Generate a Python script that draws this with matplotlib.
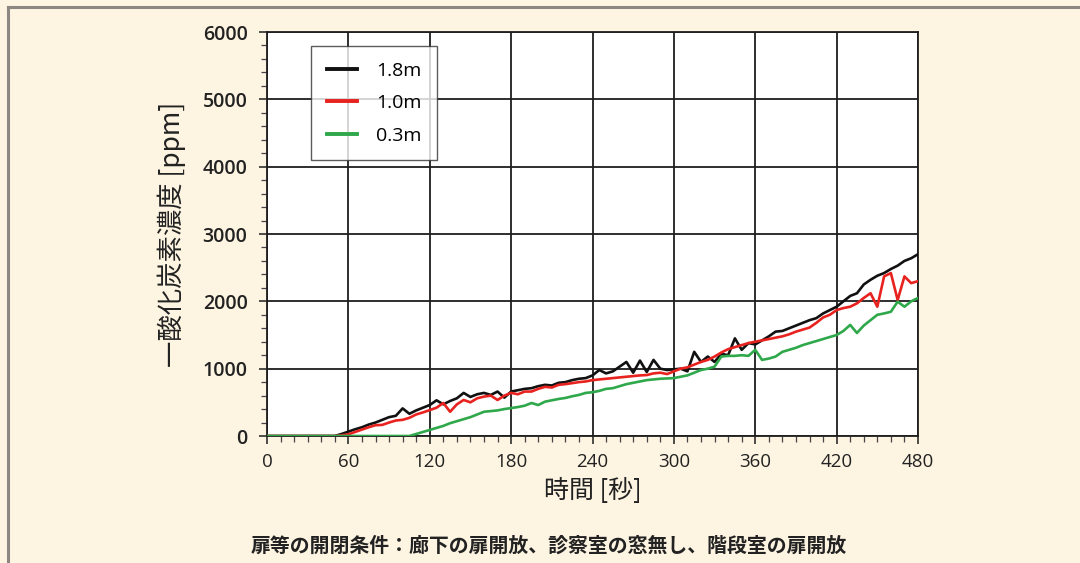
import matplotlib
matplotlib.use("Agg")
import matplotlib.pyplot as plt
from matplotlib.ticker import MultipleLocator
from matplotlib.lines import Line2D

plt.rcParams['font.family'] = ['Noto Sans CJK JP', 'DejaVu Sans']

time_s = list(range(0, 481, 5))

co_18m = [0, 0, 0, 0, 0, 0, 0, 0, 0, 0, 0, 30, 65, 100, 130, 170, 200, 240, 280, 300,
          410, 330, 380, 420, 460, 530, 470, 520, 560, 640, 580, 620, 640, 610, 660, 570,
          660, 680, 700, 710, 740, 760, 750, 790, 800, 830, 850, 860, 900, 980, 930, 960,
          1030, 1100, 940, 1120, 950, 1130, 1000, 980, 990, 1000, 960, 1250, 1100, 1180,
          1100, 1220, 1200, 1450, 1280, 1380, 1360, 1420, 1480, 1550, 1560, 1600, 1640,
          1680, 1720, 1750, 1820, 1870, 1920, 2000, 2080, 2120, 2250, 2320, 2380, 2420,
          2480, 2530, 2600, 2640, 2700]

co_10m = [0, 0, 0, 0, 0, 0, 0, 0, 0, 0, 0, 10, 25, 60, 95, 130, 160, 165, 200, 230,
          240, 270, 320, 350, 385, 420, 490, 360, 470, 535, 500, 560, 585, 600, 535, 600,
          640, 620, 660, 660, 700, 730, 720, 760, 770, 785, 800, 810, 830, 840, 850, 860,
          870, 880, 890, 900, 905, 930, 940, 920, 960, 1000, 1020, 1060, 1100, 1130, 1180,
          1240, 1290, 1320, 1350, 1380, 1400, 1420, 1440, 1460, 1480, 1510, 1550, 1580,
          1610, 1680, 1760, 1800, 1870, 1900, 1920, 1970, 2050, 2120, 1920, 2370, 2420,
          2020, 2370, 2270, 2300]

co_03m = [0, 0, 0, 0, 0, 0, 0, 0, 0, 0, 0, 0, 0, 0, 0, 0, 0, 0, 0, 0,
          0, 0, 30, 60, 90, 120, 150, 190, 220, 250, 280, 320, 360, 370, 380, 400,
          415, 430, 450, 490, 460, 510, 530, 550, 565, 590, 610, 640, 650, 670, 700, 710,
          740, 770, 790, 810, 830, 840, 850, 855, 860, 880, 900, 940, 980, 1000, 1030,
          1180, 1190, 1190, 1200, 1190, 1280, 1130, 1150, 1180, 1250, 1280, 1310, 1350,
          1380, 1410, 1440, 1470, 1500, 1560, 1650, 1530, 1640, 1720, 1800, 1820, 1845,
          1995, 1920, 2000, 2050]

series_labels = ['1.8m', '1.0m', '0.3m']
series_colors = ['#111111', '#e8221e', '#2ea84a']
x_ticks = [0, 60, 120, 180, 240, 300, 360, 420, 480]
y_ticks = [0, 1000, 2000, 3000, 4000, 5000, 6000]

bg = '#fdf4e1'
fig = plt.figure(figsize=(10.8, 5.63), dpi=100, facecolor=bg)

# frame lines (top and left)
fig.add_artist(Line2D([8/1080, 1.0], [1 - 7/563, 1 - 7/563], color='#8c8782', lw=2.2,
                      transform=fig.transFigure))
fig.add_artist(Line2D([8/1080, 8/1080], [0.0, 1 - 7/563], color='#8c8782', lw=2.2,
                      transform=fig.transFigure))

ax = fig.add_axes([267/1080, 1 - 436/563, (918 - 267)/1080, (436 - 32)/563])
ax.set_facecolor('white')

for ys, lab, col in zip([co_18m, co_10m, co_03m], series_labels, series_colors):
    ax.plot(time_s, ys, color=col, lw=1.9, label=lab, zorder=3)

ax.set_xlim(0, 480)
ax.set_ylim(0, 6000)
ax.set_xticks(x_ticks)
ax.set_yticks(y_ticks)
ax.xaxis.set_minor_locator(MultipleLocator(10))
ax.yaxis.set_minor_locator(MultipleLocator(200))
ax.grid(True, which='major', color='#1e1e1e', lw=1.3, zorder=1)
for s in ax.spines.values():
    s.set_color('#1e1e1e')
    s.set_linewidth(1.3)
ax.tick_params(which='major', length=6, width=1.1, color='#1e1e1e', direction='out')
ax.tick_params(which='minor', length=4, width=0.9, color='#444444', direction='out')
ax.tick_params(axis='x', labelsize=13.5, pad=6)
ax.tick_params(axis='y', labelsize=14, pad=8)
for lbl in ax.get_yticklabels() + ax.get_xticklabels():
    lbl.set_fontfamily(['Open Sans', 'DejaVu Sans'])
    lbl.set_color('#222222')
for lbl in ax.get_yticklabels():
    lbl.set_fontweight('semibold')

ax.set_xlabel('時間 [秒]', fontsize=18, color='#222222', labelpad=5)
ax.set_ylabel('一酸化炭素濃度 [ppm]', fontsize=19, color='#222222', labelpad=12)

leg = ax.legend(loc='upper left', bbox_to_anchor=(0.0676, 0.965), fontsize=14,
                frameon=True, fancybox=False, edgecolor='#333333', handlelength=1.55,
                handletextpad=1.0, borderpad=0.8, labelspacing=0.75, borderaxespad=0.0)
leg.get_frame().set_linewidth(1.0)
for line in leg.get_lines():
    line.set_linewidth(2.8)
for t in leg.get_texts():
    t.set_fontfamily(['Open Sans', 'DejaVu Sans'])

fig.text(0.508, 1 - 545/563, '扉等の開閉条件：廊下の扉開放、診察室の窓無し、階段室の扉開放',
         ha='center', va='center', fontsize=14.3, fontweight='bold', color='#222222')

fig.savefig('out.png', dpi=100, facecolor=bg)
